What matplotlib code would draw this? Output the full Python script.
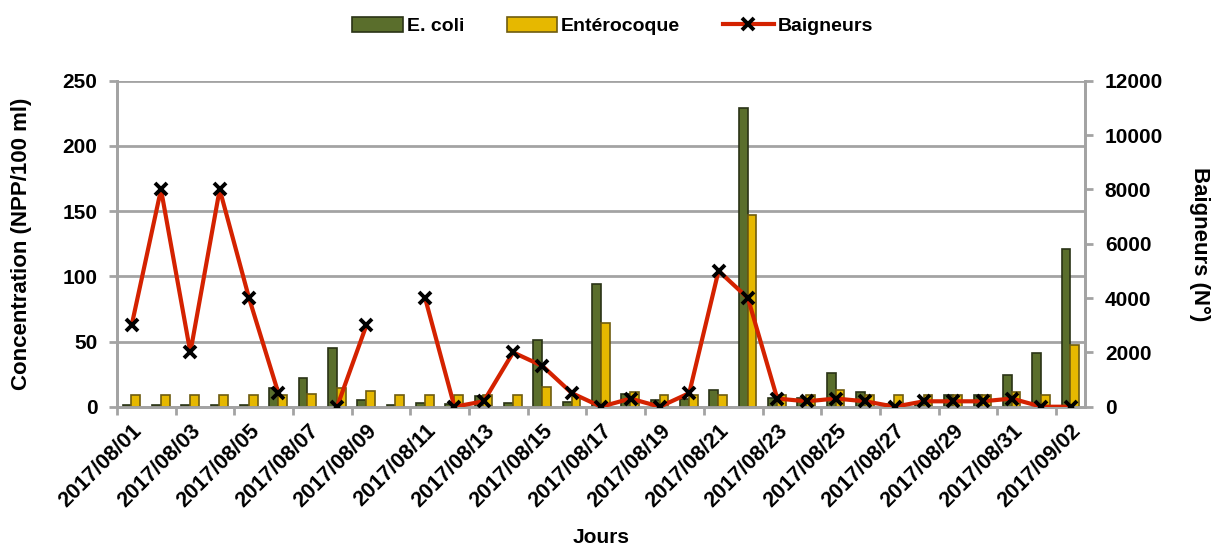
import numpy as np
import pandas as pd
import matplotlib
matplotlib.use("Agg")
from matplotlib import pyplot as plt

plt.rcParams["font.family"] = ["Liberation Sans", "DejaVu Sans"]
plt.rcParams["font.weight"] = "bold"

DAYS = pd.date_range("2017-08-01", "2017-09-02", freq="D").strftime("%Y/%m/%d").tolist()

ECOLI = [1, 1, 1, 1, 1, 14, 22, 45, 5, 1, 3,
         2, 8, 3, 51, 4, 94, 10, 5, 6, 13, 229,
         7, 7, 26, 11, 2, 4, 9, 9, 24, 41, 121]
ENTERO = [9, 9, 9, 9, 9, 9, 10, 14, 12, 9, 9,
          9, 9, 9, 15, 8, 64, 11, 9, 9, 9, 147,
          9, 9, 13, 9, 9, 9, 9, 9, 11, 9, 47]
BAIGNEURS = [3000, 8000, 2000, 8000, 4000, 500, np.nan, 0, 3000, np.nan, 4000,
             0, 200, 2000, 1500, 500, 0, 300, 0, 500, 5000, 4000,
             300, 200, 300, 200, 0, 200, 200, 200, 300, 0, 0]

GRID = "#a3a3a3"
GREEN = "#5a6e2c"
GREEN_EDGE = "#2a3316"
YELLOW = "#e6b800"
YELLOW_EDGE = "#6e5c10"
RED = "#d42200"

fig = plt.figure(figsize=(12.25, 5.48), dpi=100)
ax = fig.add_axes([0.0955, 0.2578, 0.7905, 0.5949])
ax2 = ax.twinx()

x = np.arange(len(DAYS))
w = 0.3
ax.bar(x - 0.16, ECOLI, width=w, color=GREEN, edgecolor=GREEN_EDGE,
       linewidth=1.2, label="E. coli", zorder=3)
ax.bar(x + 0.14, ENTERO, width=w, color=YELLOW, edgecolor=YELLOW_EDGE,
       linewidth=1.2, label="Entérocoque", zorder=3)

ax2.plot(x, BAIGNEURS, color=RED, linewidth=3, marker="x", markersize=9,
         markeredgewidth=2.8, markeredgecolor="black", label="Baigneurs", zorder=4)

# left axis
ax.set_xlim(-0.5, len(DAYS) - 0.5)
ax.set_ylim(0, 250)
ax.set_yticks(np.arange(0, 251, 50))
ax.yaxis.grid(True, color=GRID, linewidth=2)
ax.set_axisbelow(True)
ax.set_ylabel("Concentration (NPP/100 ml)", fontsize=16, fontweight="bold", labelpad=22)
ax.set_xlabel("Jours", fontsize=15, fontweight="bold", labelpad=12)

# right axis
ax2.set_ylim(0, 12000)
ax2.set_yticks(np.arange(0, 12001, 2000))
ax2.set_ylabel("Baigneurs (N°)", fontsize=16, fontweight="bold", rotation=-90,
               labelpad=34)

for a in (ax, ax2):
    for sp in a.spines.values():
        sp.set_color(GRID)
        sp.set_linewidth(2)
    a.spines["top"].set_visible(False)
    a.tick_params(axis="y", colors=GRID, labelcolor="black", width=2, length=6,
                  labelsize=15, pad=8)

# ticks at category boundaries, labels on every other day
ax.set_xticks(np.arange(-0.5, len(DAYS), 2))
ax.set_xticklabels([])
ax.tick_params(axis="x", which="major", colors=GRID, width=2, length=6)
ax.set_xticks(x[::2], minor=True)
ax.set_xticklabels(DAYS[::2], minor=True, rotation=45, ha="right", va="top",
                   rotation_mode="anchor", fontsize=15.5, fontweight="bold")
ax.tick_params(axis="x", which="minor", length=0, pad=10)

h1, l1 = ax.get_legend_handles_labels()
h2, l2 = ax2.get_legend_handles_labels()
fig.legend(h1 + h2, l1 + l2, loc="upper center", bbox_to_anchor=(0.5, 1.0),
           ncol=3, frameon=False, fontsize=14, handlelength=2.6, handleheight=0.75,
           columnspacing=2.2, handletextpad=0.2)

fig.savefig("out.png", dpi=100)
